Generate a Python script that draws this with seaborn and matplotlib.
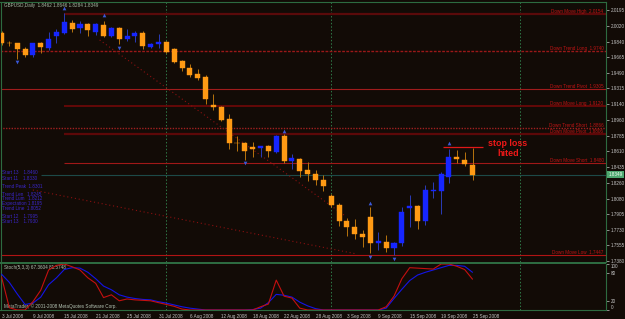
import numpy as np
import pandas as pd
import matplotlib
matplotlib.use("Agg")
import matplotlib.pyplot as plt
import matplotlib.transforms as mtransforms
from matplotlib.patches import Rectangle
import seaborn as sns

# ---------------- data ----------------
title_text = "GBPUSD,Daily  1.8462 1.8646 1.8284 1.8349"
last_price = 1.8349

date_labels = ["3 Jul 2008", "9 Jul 2008", "15 Jul 2008", "21 Jul 2008", "25 Jul 2008",
               "31 Jul 2008", "6 Aug 2008", "12 Aug 2008", "18 Aug 2008", "22 Aug 2008",
               "28 Aug 2008", "3 Sep 2008", "9 Sep 2008", "15 Sep 2008", "19 Sep 2008",
               "25 Sep 2008"]
date_label_bar = [0, 4, 8, 12, 16, 20, 24, 28, 32, 36, 40, 44, 48, 52, 56, 60]
month_start_bar = [21, 42, 66]

opens = [1.9937, 1.9825, 1.9825, 1.9758, 1.9690, 1.9825, 1.9769, 1.9903, 1.9937, 2.0049,
         1.9993, 2.0038, 1.9948, 2.0027, 1.9903, 1.9993, 1.9870, 1.9903, 1.9937, 1.9780,
         1.9814, 1.9836, 1.9758, 1.9623, 1.9544, 1.9477, 1.9444, 1.9129, 1.9107, 1.8973,
         1.8705, 1.8703, 1.8659, 1.8648, 1.8670, 1.8603, 1.8782, 1.8501, 1.8524, 1.8401,
         1.8356, 1.8289, 1.8109, 1.8008, 1.7829, 1.7761, 1.7683, 1.7874, 1.7582, 1.7593,
         1.7526, 1.7582, 1.7974, 1.7997, 1.7829, 1.8170, 1.8165, 1.8322, 1.8546, 1.8513,
         1.8462]
highs = [1.9959, 1.9847, 1.9830, 1.9780, 1.9830, 1.9836, 1.9948, 1.9982, 2.0161, 2.0083,
         2.0072, 2.0049, 2.0045, 2.0072, 2.0005, 2.0000, 1.9982, 1.9959, 1.9959, 1.9825,
         1.9926, 1.9847, 1.9769, 1.9634, 1.9589, 1.9533, 1.9466, 1.9253, 1.9118, 1.9029,
         1.8782, 1.8715, 1.8715, 1.8675, 1.8681, 1.8793, 1.8805, 1.8580, 1.8530, 1.8490,
         1.8401, 1.8345, 1.8131, 1.8031, 1.7862, 1.7851, 1.7728, 1.7986, 1.7705, 1.7672,
         1.7590, 1.7986, 1.8120, 1.8008, 1.8233, 1.8266, 1.8378, 1.8636, 1.8625, 1.8603,
         1.8646]
lows = [1.9802, 1.9791, 1.9645, 1.9668, 1.9668, 1.9713, 1.9746, 1.9825, 1.9930, 1.9948,
        1.9937, 1.9903, 1.9915, 1.9892, 1.9892, 1.9814, 1.9847, 1.9836, 1.9758, 1.9769,
        1.9769, 1.9713, 1.9601, 1.9511, 1.9444, 1.9410, 1.9141, 1.9073, 1.8950, 1.8636,
        1.8614, 1.8513, 1.8546, 1.8546, 1.8546, 1.8592, 1.8479, 1.8412, 1.8322, 1.8278,
        1.8233, 1.8165, 1.7986, 1.7772, 1.7660, 1.7627, 1.7537, 1.7470, 1.7504, 1.7481,
        1.7447, 1.7548, 1.7761, 1.7739, 1.7784, 1.8087, 1.7907, 1.8255, 1.8479, 1.8445,
        1.8284]
closes = [1.9825, 1.9822, 1.9758, 1.9690, 1.9825, 1.9780, 1.9870, 1.9948, 2.0060, 1.9982,
          2.0038, 1.9971, 2.0038, 1.9903, 1.9993, 1.9870, 1.9903, 1.9937, 1.9791, 1.9814,
          1.9836, 1.9724, 1.9612, 1.9544, 1.9466, 1.9432, 1.9197, 1.9107, 1.8961, 1.8703,
          1.8700, 1.8614, 1.8636, 1.8670, 1.8614, 1.8782, 1.8501, 1.8535, 1.8390, 1.8356,
          1.8289, 1.8221, 1.8008, 1.7829, 1.7761, 1.7683, 1.7649, 1.7582, 1.7604, 1.7526,
          1.7582, 1.7930, 1.7997, 1.7829, 1.8176, 1.8180, 1.8356, 1.8546, 1.8524, 1.8468,
          1.8349]

price_ticks = [2.0195, 2.0020, 1.9840, 1.9665, 1.9490, 1.9315, 1.9140, 1.8960, 1.8785,
               1.8610, 1.8435, 1.8260, 1.8080, 1.7905, 1.7730, 1.7555, 1.7380]

level_names = ["Down Move High", "Down Trend Long", "Down Trend Pivot", "Down Move Long",
               "Down Trend Short", "Down Move Pivot", "Down Move Short", "Down Move Low"]
level_prices = [2.0154, 1.9740, 1.9305, 1.9120, 1.8866, 1.8806, 1.8480, 1.7447]
level_from_bar = [8, 0, 0, 8, 0, 8, 8, 0]

fractal_up_bar = [8, 13, 36, 47, 57]
fractal_up_price = [2.0217, 2.0139, 1.8838, 1.8031, 1.8703]
fractal_dn_bar = [2, 15, 31, 47, 50]
fractal_dn_price = [1.9612, 1.9769, 1.8479, 1.7425, 1.7403]

trend_a_bar = [12.5, 43.8]
trend_a_price = [1.9859, 1.7885]
trend_b_bar = [4.0, 45.3]
trend_b_price = [1.8176, 1.7458]

stop_loss_bar = [56.3, 61.4]
stop_loss_price = 1.8655

info_lines = ["Start 13    1.8460", "Start 11    1.8330", "Trend Peak  1.8301",
              "Trend Len   1.8245", "Trend Lum   1.8212", "Expectation 1.8195",
              "Trend Line  1.8052", "Start 12    1.7995", "Start 13    1.7930"]

stoch_main = [72, 5, 0, 0, 18, 43, 87, 97, 100, 94,
              87, 70, 58, 27, 33, 20, 24, 22, 21, 20,
              16, 12, 8, 2, 0, 0, 0, 0, 0, 0,
              0, 0, 0, 7, 13, 65, 30, 26, 4, 0,
              0, 0, 0, 0, 0, 0, 0, 0, 0, 7,
              30, 68, 92, 91, 90, 89, 100, 100, 95, 88,
              67]
stoch_signal = [78, 60, 35, 12, 15, 28, 55, 70, 88, 92,
                91, 82, 68, 52, 44, 33, 28, 25, 23, 22,
                18, 15, 11, 7, 4, 2, 0, 0, 0, 0,
                0, 0, 1, 4, 16, 34, 32, 28, 17, 9,
                3, 0, 0, 0, 0, 0, 0, 0, 0, 4,
                25, 45, 64, 76, 82, 87, 92, 97, 97, 95,
                82]
stoch_levels = [100, 80, 20, 0]
stoch_title = "Stoch(5,3,3) 67.3604 81.5748"
copyright_text = "MetaTrader, \u00a9 2001-2008 MetaQuotes Software Corp."

# ---------------- style ----------------
BG = "#120b06"
GREEN = "#2d6b40"
TXT = "#c4c4c4"
ORANGE = "#ff9a14"
ORANGE_W = "#b8740e"
BLUE = "#1626ff"
BLUE_W = "#2a3cb8"

sns.set_theme(style="dark", rc={"axes.facecolor": BG, "figure.facecolor": BG,
                                "savefig.facecolor": BG})
plt.rcParams['font.family'] = ['Liberation Sans', 'DejaVu Sans']
FS = 3.3

W, H = 625, 319
fig = plt.figure(figsize=(W / 100, H / 100), dpi=100)
left_px, right_px = 0.5, 606
ax = fig.add_axes([left_px / W, (H - 262) / H, (right_px - left_px) / W, 260 / H])
ax2 = fig.add_axes([left_px / W, (H - 310) / H, (right_px - left_px) / W, 46 / H])

px_per_bar = 7.85
bar0_px = 1.5
xlim = ((left_px - bar0_px) / px_per_bar, (right_px - bar0_px) / px_per_bar)

df = pd.DataFrame({"bar": np.arange(len(opens)), "open": opens, "high": highs,
                   "low": lows, "close": closes})
df["bull"] = df["close"] > df["open"]
df["body_lo"] = df[["open", "close"]].min(axis=1)
df["body_h"] = (df["close"] - df["open"]).abs().clip(lower=0.0008)

for bull, body_c, wick_c in [(False, ORANGE, ORANGE_W), (True, BLUE, BLUE_W)]:
    d = df[df["bull"] == bull]
    ax.vlines(d["bar"], d["low"], d["high"], color=wick_c, lw=0.7, zorder=3)
    ax.bar(d["bar"], d["body_h"], bottom=d["body_lo"], width=0.64, color=body_c,
           edgecolor=body_c, lw=0.3, zorder=4)

# level lines
styles = {
    "Down Move High": dict(color="#5a0a0a", lw=1.6, ls="-"),
    "Down Trend Long": dict(color="#9a1818", lw=1.0, ls=(0, (2, 1))),
    "Down Trend Pivot": dict(color="#a01c1c", lw=0.8, ls="-"),
    "Down Move Long": dict(color="#6a0808", lw=1.3, ls="-"),
    "Down Trend Short": dict(color="#a02020", lw=1.0, ls=(0, (1, 1))),
    "Down Move Pivot": dict(color="#5c0808", lw=1.6, ls="-"),
    "Down Move Short": dict(color="#a01818", lw=0.8, ls="-"),
    "Down Move Low": dict(color="#b01414", lw=0.8, ls="-"),
}
for name, pr, b0 in zip(level_names, level_prices, level_from_bar):
    st = styles[name]
    x0 = xlim[0] if b0 == 0 else b0
    ax.hlines(pr, x0, xlim[1], zorder=2, **st)
    ax.text(603.5 / (right_px - left_px) * 1.0 - 0.0 if False else (603.5 - left_px) / (right_px - left_px),
            pr, f"{name}  {pr:.4f}", transform=mtransforms.blended_transform_factory(ax.transAxes, ax.transData),
            ha="right", va="bottom", fontsize=FS, color="#c01414", zorder=5)

# current price line
ax.hlines(last_price, 5, xlim[1], color="#1d4a48", lw=0.8, zorder=2)

# trend lines
ax.plot(trend_a_bar, trend_a_price, color="#8a1010", lw=0.8, ls=(0, (1, 2.5)), zorder=2)
ax.plot(trend_b_bar, trend_b_price, color="#8a1010", lw=0.8, ls=(0, (1, 2.5)), zorder=2)

# fractals
ax.scatter(fractal_up_bar, fractal_up_price, marker="^", s=7, color="#3a58d8", zorder=6, lw=0)
ax.scatter(fractal_dn_bar, fractal_dn_price, marker="v", s=7, color="#3a58d8", zorder=6, lw=0)

# stop loss
ax.hlines(stop_loss_price, stop_loss_bar[0], stop_loss_bar[1], color="#e01818", lw=0.9, zorder=5)
ax.text(64.5, 1.8642, "stop loss\nhited", color="#f01818", fontsize=6.4, fontweight="bold",
        ha="center", va="center", linespacing=1.15, zorder=7)

# month separators
for a in (ax, ax2):
    for b in month_start_bar:
        a.axvline(b, color="#2f7a48", lw=0.7, ls=(0, (1.5, 2)), zorder=1)

# info block
trans_ax = ax.transAxes
info_y = [173, 178, 186, 194, 198.5, 203, 209, 216, 221.5]
for t, yy in zip(info_lines, info_y):
    ax.text(1.5 / 605, (262 - yy) / 260, t, transform=trans_ax, fontsize=FS,
            color="#3a26c8", ha="left", va="center", zorder=8)

ax.text(3 / 605, (262 - 5) / 260, title_text, transform=trans_ax, fontsize=FS,
        color="#a8bca8", ha="left", va="center", zorder=8)

ax.set_xlim(*xlim)
ax.set_ylim(1.73688, 2.02846)
ax.yaxis.tick_right()
ax.set_yticks(price_ticks)
ax.set_yticklabels([f"{v:.4f}" for v in price_ticks])
ax.tick_params(axis="y", labelsize=FS, colors=TXT, length=2, width=0.5, pad=1.5)
ax.tick_params(axis="x", bottom=False, labelbottom=False)
ax.grid(False)
ax.set_xlabel("")
ax.set_ylabel("")
for s in ax.spines.values():
    s.set_color(GREEN)
    s.set_linewidth(0.8)
ax.spines["bottom"].set_visible(False)
for t in ax.get_yticklabels():
    t.set_color(TXT)

# current price box
ax.text(1.004, last_price, f"{last_price:.4f}",
        transform=mtransforms.blended_transform_factory(ax.transAxes, ax.transData),
        fontsize=FS, color="#f0fff0", ha="left", va="center", zorder=9,
        bbox=dict(boxstyle="square,pad=0.25", fc="#4fa870", ec="none"), clip_on=False)

# ---------------- stochastic ----------------
sdf = pd.DataFrame({"bar": np.arange(len(stoch_main)), "main": stoch_main,
                    "signal": stoch_signal})
sns.lineplot(data=sdf, x="bar", y="signal", ax=ax2, color="#1414e6", lw=0.8, zorder=3)
sns.lineplot(data=sdf, x="bar", y="main", ax=ax2, color="#c41010", lw=0.8, zorder=4)
ax2.set_xlim(*xlim)
ax2.set_ylim(0, 100)
ax2.yaxis.tick_right()
ax2.set_yticks(stoch_levels)
ax2.set_yticklabels([str(v) for v in stoch_levels])
ax2.tick_params(axis="y", labelsize=FS, colors=TXT, length=2, width=0.5, pad=1.5)
for t, v in zip(ax2.get_yticklabels(), stoch_levels):
    t.set_color(TXT)
    if v == 100:
        t.set_va("top")
    elif v == 0:
        t.set_va("bottom")
ax2.set_xticks(date_label_bar)
ax2.set_xticklabels(date_labels)
ax2.tick_params(axis="x", labelsize=FS, colors=TXT, length=2, width=0.5, pad=0.8)
for t in ax2.get_xticklabels():
    t.set_ha("left")
    t.set_color(TXT)
ax2.set_xlabel("")
ax2.set_ylabel("")
ax2.grid(False)
for s in ax2.spines.values():
    s.set_color(GREEN)
    s.set_linewidth(0.8)
ax2.spines["top"].set_visible(False)
ax2.text(3 / 605, (310 - 268) / 46, stoch_title, transform=ax2.transAxes, fontsize=FS,
         color="#b4c4b4", ha="left", va="center")
ax2.text(3 / 605, (310 - 306.5) / 46, copyright_text, transform=ax2.transAxes, fontsize=FS,
         color="#b4c4b4", ha="left", va="center")

# panel separator
fig.add_artist(Rectangle((0, (H - 264) / H), right_px / W, 2 / H, transform=fig.transFigure,
                         color=GREEN, lw=0, zorder=10))

fig.savefig("out.png", dpi=100, facecolor=BG)
